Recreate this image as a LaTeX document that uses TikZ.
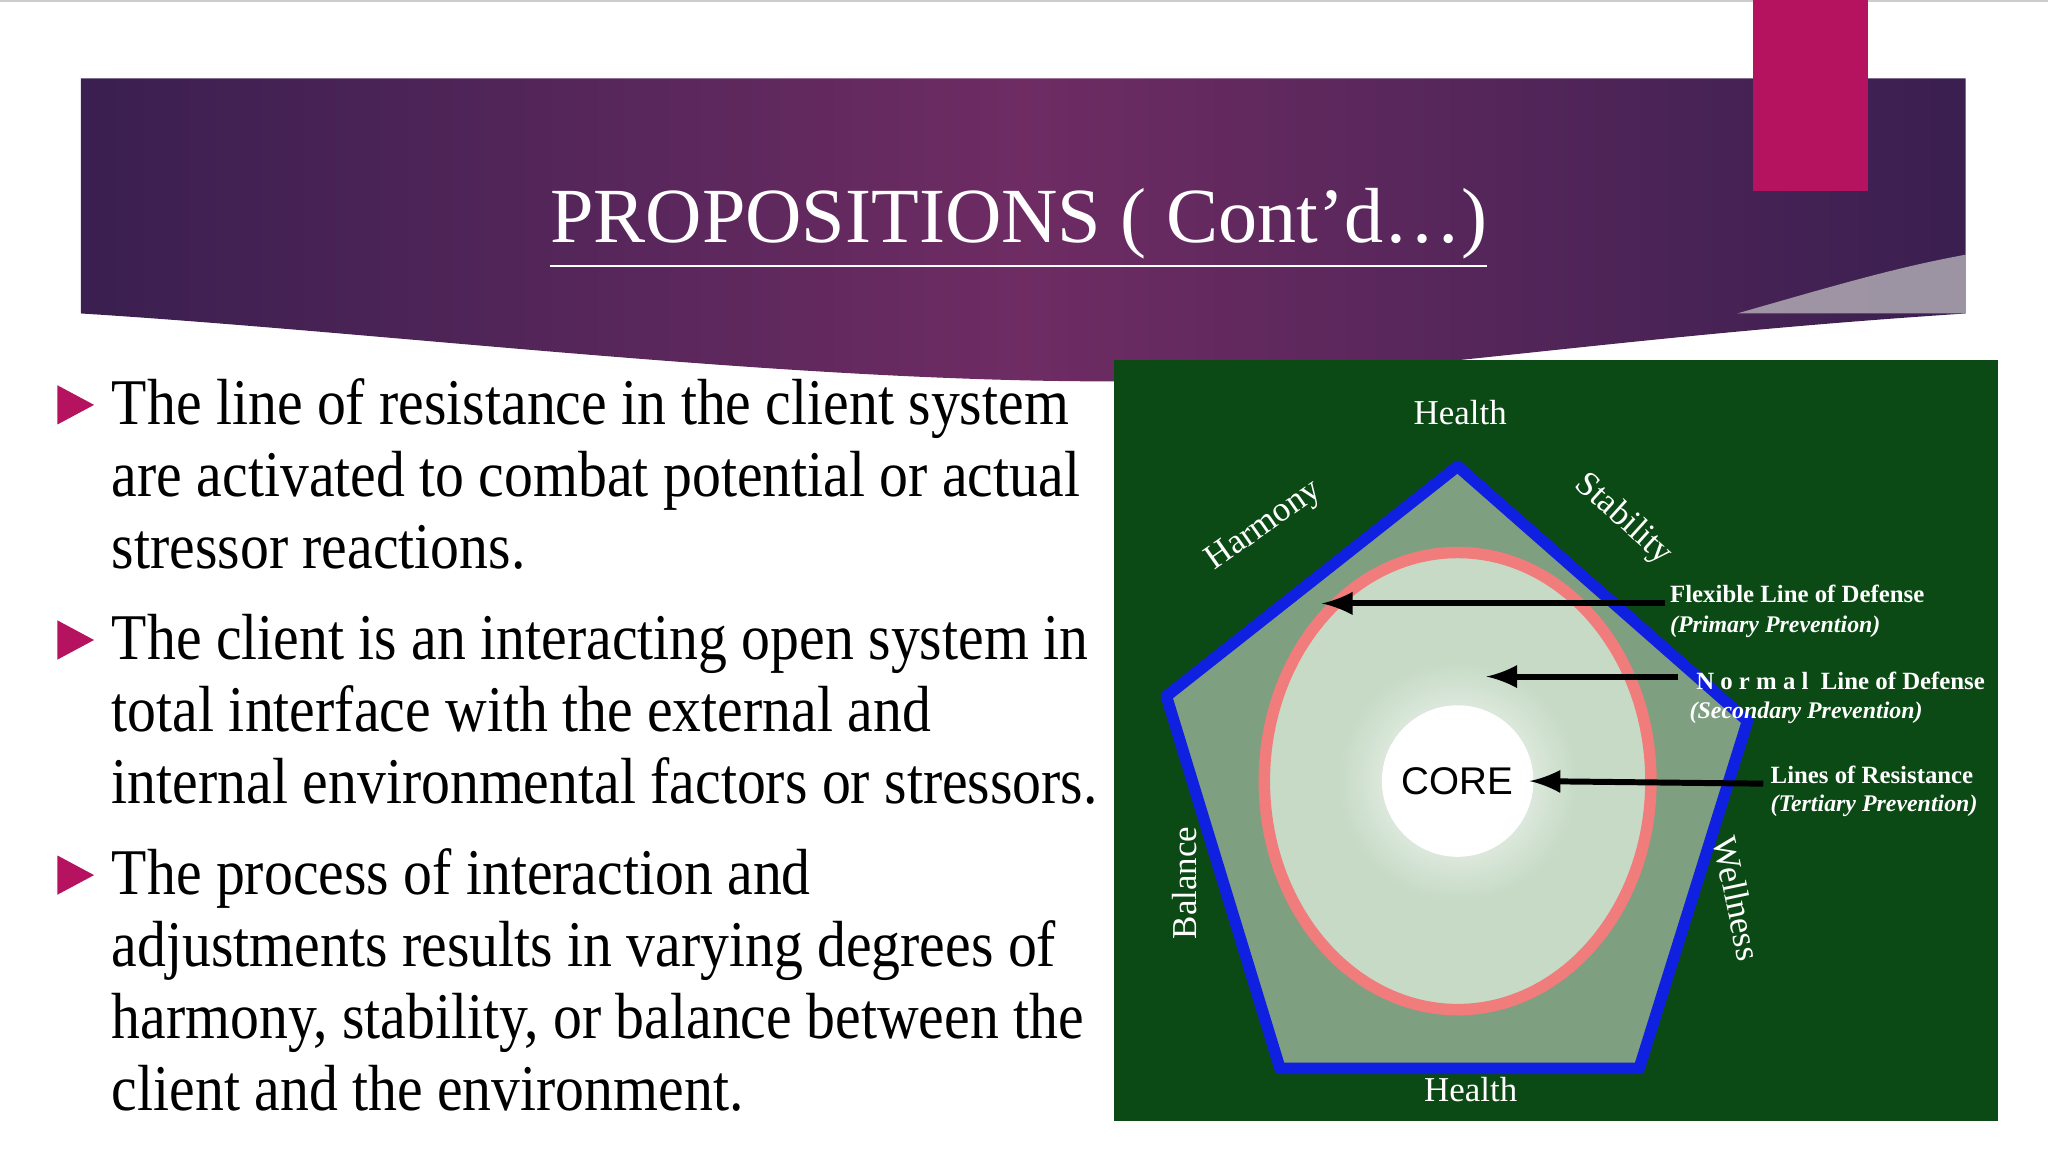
\documentclass[tikz,border=0pt]{standalone}
\usepackage{fontspec}
\setmainfont{Liberation Serif}
\newfontfamily\sansf{Liberation Sans}
\usetikzlibrary{shapes.geometric}
\definecolor{pinkb}{HTML}{B5135F}
\definecolor{purpA}{HTML}{3A1F50}
\definecolor{purpB}{HTML}{6E2C63}
\definecolor{dgreen}{HTML}{0B4A14}
\definecolor{pentf}{HTML}{7E9F80}
\definecolor{ringf}{HTML}{C6DAC6}
\definecolor{pblue}{HTML}{1020E0}
\definecolor{salmon}{HTML}{F07C7C}
\newcommand{\sq}[1]{\scalebox{0.885}[1]{#1}}
\tikzset{
 bul/.style={anchor=base west,inner sep=0pt,font=\fontsize{14.2}{14}\selectfont},
 tri/.style={fill=pinkb,draw=none},
 dlab/.style={text=white,font=\fontsize{7.6}{8}\selectfont,inner sep=0pt},
 side/.style={text=white,font=\fontsize{7.6}{8}\selectfont,inner sep=0pt},
 note/.style={text=white,font=\bfseries\fontsize{5.4}{6}\selectfont,anchor=west,inner sep=0pt},
 notei/.style={text=white,font=\itshape\bfseries\fontsize{5.2}{6}\selectfont,anchor=west,inner sep=0pt},
 arr/.style={-latex,line width=1.3pt,black},
}
\begin{document}
\begin{tikzpicture}[x=0.01cm,y=-0.01cm]
\useasboundingbox (0,0) rectangle (1568,882);
\fill[white] (0,0) rectangle (1568,882);
\draw[gray!40] (0,1) -- (1568,1);
% banner
\shade[left color=purpA,right color=purpA,middle color=purpB] (62,60) -- (1505,60) -- (1505,240) .. controls (1200,260) and (1050,292) .. (850,292) .. controls (600,292) and (300,255) .. (62,240) -- cycle;
\fill[gray!45,opacity=0.7] (1505,195) .. controls (1450,205) and (1400,220) .. (1330,240) -- (1505,240) -- cycle;
\fill[pinkb] (1342,0) rectangle (1430,146);
\node[text=white,font=\fontsize{17}{18}\selectfont] (title) at (780,175) {\underline{PROPOSITIONS ( Cont’d…)}};
% bullets
\foreach \y in {310,490,670}{\fill[tri] (44,\y-15) -- (72,\y) -- (44,\y+15) -- cycle;}
\node[bul] (l1) at (85,325) {\sq{The line of resistance in the client system}};
\node[bul] (l2) at (85,380) {\sq{are activated to combat potential or actual}};
\node[bul] (l3) at (85,435) {\sq{stressor reactions.}};
\node[bul] (l4) at (85,505) {\sq{The client is an interacting open system in}};
\node[bul] (l5) at (85,560) {\sq{total interface with the external and}};
\node[bul] (l6) at (85,615) {\sq{internal environmental factors or stressors.}};
\node[bul] (l7) at (85,685) {\sq{The process of interaction and}};
\node[bul] (l8) at (85,740) {\sq{adjustments results in varying degrees of}};
\node[bul] (l9) at (85,795) {\sq{harmony, stability, or balance between the}};
\node[bul] (l10) at (85,850) {\sq{client and the environment.}};
% diagram
\fill[dgreen] (853,276) rectangle (1530,858);
\filldraw[fill=pentf,draw=pblue,line width=2.5pt,line join=round] (1116,357) -- (1338,552) -- (1255,818) -- (980,818) -- (893,533) -- cycle;
\filldraw[fill=ringf,draw=salmon,line width=2.5pt] (1116,598) ellipse (148 and 175);
\shade[inner color=white,outer color=ringf] (1116,598) circle (92);
\fill[white] (1116,598) circle (58);
\node[font=\sansf\fontsize{8.4}{9}\selectfont] (core) at (1116,598) {CORE};
\coordinate (a1s) at (1275,462); \coordinate (a1e) at (1012,462);
\coordinate (a2s) at (1285,518); \coordinate (a2e) at (1138,518);
\coordinate (a3s) at (1350,600); \coordinate (a3e) at (core.east);
\draw[arr] (a1s) -- (a1e);
\draw[arr] (a2s) -- (a2e);
\draw[arr] (a3s) -- (a3e);
\node[note] (n1) at (1278,455) {Flexible Line of Defense};
\node[notei] (n1b) at (1278,480) {(Primary Prevention)};
\node[note] (n2) at (1298,521) {N o r m a l\ \ Line of Defense};
\node[notei] (n2b) at (1293,546) {(Secondary Prevention)};
\node[note] (n3) at (1355,593) {Lines of Resistance};
\node[notei] (n3b) at (1355,617) {(Tertiary Prevention)};
\node[dlab] (h1) at (1118,316) {Health};
\node[dlab] (h2) at (1126,834) {Health};
\node[side,rotate=35] (hm) at (968,403) {Harmony};
\node[side,rotate=-42] (st) at (1243,398) {Stability};
\node[side,rotate=90] (ba) at (907,676) {Balance};
\node[side,rotate=-78] (we) at (1330,688) {Wellness};
\end{tikzpicture}
\end{document}
